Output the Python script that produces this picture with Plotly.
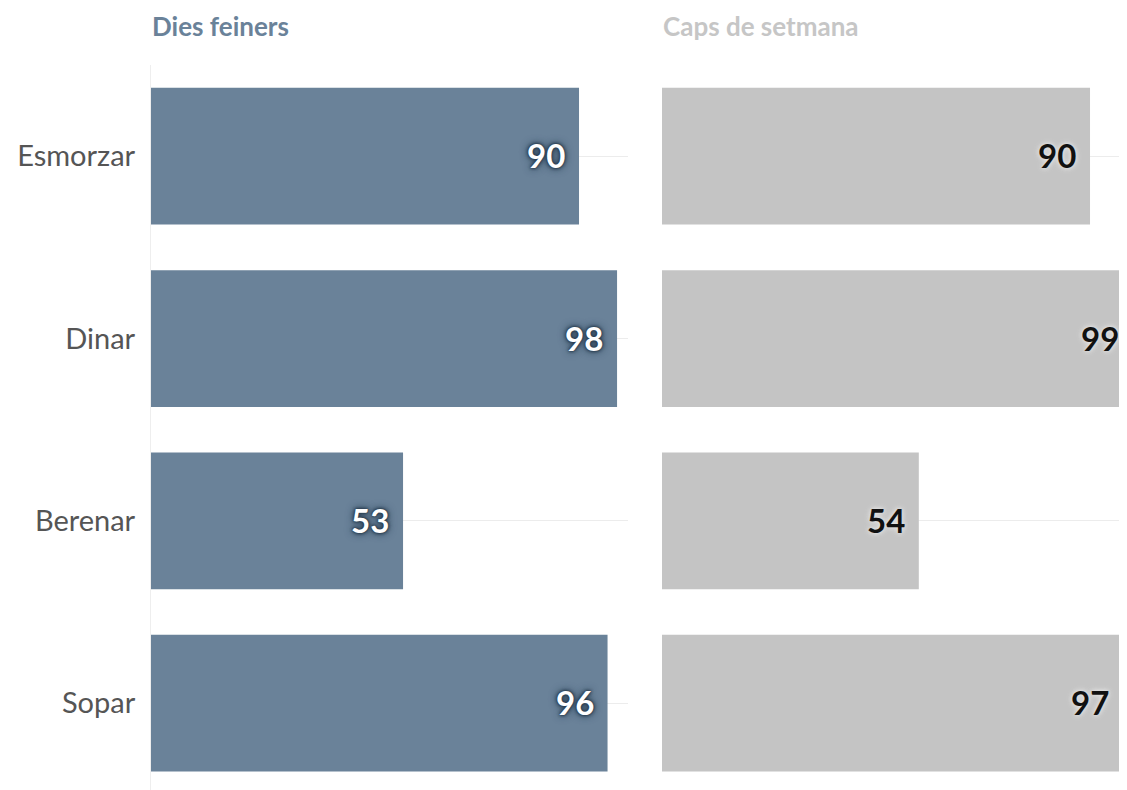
import plotly.graph_objects as go

categories = ["Esmorzar", "Dinar", "Berenar", "Sopar"]
weekday = [90, 98, 53, 96]
weekend = [90, 99, 54, 97]
panel_titles = ["Dies feiners", "Caps de setmana"]

W, H = 1127, 790
LEFT_COLOR = "#6a8299"
RIGHT_COLOR = "#c4c4c4"
FONT = "Lato, 'Source Sans Pro', 'Open Sans', sans-serif"

fig = go.Figure()

fig.add_trace(go.Bar(
    x=weekday, y=categories, orientation="h", xaxis="x", yaxis="y",
    marker=dict(color=LEFT_COLOR, line=dict(width=0)), hoverinfo="skip",
))
fig.add_trace(go.Bar(
    x=weekend, y=categories, orientation="h", xaxis="x2", yaxis="y2",
    marker=dict(color=RIGHT_COLOR, line=dict(width=0)), hoverinfo="skip",
))

# page body adds an 8px offset; figure coords = screen coords - 8
px_per_unit = 477 / 100.3
left_dom = [143 / W, 620 / W]
right_dom = [654 / W, 1.0]
right_max = (W - 654) / px_per_unit

yrange = [3.52, -0.5]

fig.update_layout(
    width=W, height=H,
    margin=dict(l=0, r=0, t=57, b=0),
    plot_bgcolor="white", paper_bgcolor="white",
    showlegend=False, bargap=0.25,
    font=dict(family=FONT),
    xaxis=dict(domain=left_dom, range=[0, 100.3], showticklabels=False,
               showgrid=False, zeroline=False, fixedrange=True),
    xaxis2=dict(domain=right_dom, range=[0, right_max], showticklabels=False,
                showgrid=False, zeroline=False, fixedrange=True),
    yaxis=dict(anchor="x", type="category", categoryarray=categories,
               range=yrange, showgrid=True, gridcolor="#ececec", gridwidth=1,
               showline=True, linecolor="#eeeeee", linewidth=1,
               ticks="", ticklabelstandoff=9, automargin=False,
               tickfont=dict(family=FONT, size=29, color="#555555")),
    yaxis2=dict(anchor="x2", type="category", categoryarray=categories,
                range=yrange, showgrid=True, gridcolor="#ececec", gridwidth=1,
                showline=False, showticklabels=False, ticks="", automargin=False),
)

# value labels
label_styles = [
    ("x", "y", weekday, dict(family=FONT, size=33, color="white", weight="bold",
                             shadow="0px 0px 3px #25384a, 0px 0px 3px #25384a, 0px 0px 6px #2f4559, 0px 0px 8px #3b536a")),
    ("x2", "y2", weekend, dict(family=FONT, size=33, color="#111111", weight="bold",
                               shadow="0px 0px 4px #e8e8e8, 0px 0px 6px #e0e0e0")),
]
for xr, yr, vals, f in label_styles:
    for cat, v in zip(categories, vals):
        fig.add_annotation(
            x=v, y=cat, xref=xr, yref=yr, text=str(v), showarrow=False,
            xanchor="right", yanchor="middle", xshift=-12, yshift=1,
            font=f,
        )

title_colors = [LEFT_COLOR, "#c6c6c6"]
for i, (t, c) in enumerate(zip(panel_titles, title_colors)):
    fig.add_annotation(
        text=f"<b>{t}</b>", xref="x domain" if i == 0 else "x2 domain",
        yref="paper", x=0, y=1, xanchor="left", yanchor="bottom",
        yshift=21, xshift=-1, showarrow=False,
        font=dict(family=FONT, size=26, color=c),
    )

fig.write_html("out.html")
